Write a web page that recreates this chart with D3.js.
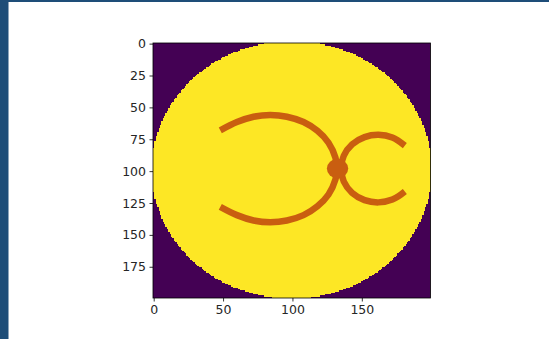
<!DOCTYPE html>
<html>
<head>
<meta charset="utf-8">
<script src="https://cdn.jsdelivr.net/npm/d3@7"></script>
<style>
  html, body { margin: 0; padding: 0; background: #fff; }
  svg { display: block; }
  text { font-family: "DejaVu Sans", sans-serif; }
</style>
</head>
<body>
<svg id="chart" width="549" height="339"></svg>
<script>
// Image grid size (pixels per side) and the round mask inside it
const gridSize = 200;
const maskCenter = [99.5, 99];
const maskRadius = 101;

// Tick labels on each axis
const xTicks = [0, 50, 100, 150];
const yTicks = [0, 25, 50, 75, 100, 125, 150, 175];

// Left curve: large arc, points in image coordinates (column, row)
const leftCurve = [
  [48, 68], [60, 61.5], [72, 57.3], [84, 56], [96, 57.3], [108, 61.5],
  [118, 68.4], [126, 77.7], [131, 89.5], [132, 98], [131, 106.5],
  [126, 118.3], [118, 127.6], [108, 134.5], [96, 138.7], [84, 140],
  [72, 138.7], [60, 134.5], [48, 128]
];

// Right curve: small arc opening to the right
const rightCurve = [
  [181, 80], [172, 73.7], [162, 71.5], [152, 73.3], [143, 79], [137, 87.9],
  [135, 98], [137, 108.1], [143, 117], [152, 122.7], [162, 124.5],
  [172, 122.3], [181, 116]
];

// Joint where the two arcs meet
const joint = { x: 132.5, y: 98, r: 7.7 };

const colors = {
  frame: "#1e4d78",
  outside: "#440154",
  inside: "#fde725",
  curve: "#c95e10",
  axis: "#000",
  text: "#262626"
};

const svg = d3.select("#chart");
const W = 549, H = 339;
const plot = { left: 153, right: 430.5, top: 43, bottom: 298 };

svg.append("rect").attr("width", W).attr("height", H).attr("fill", "#fff");
// Frame bands
svg.append("rect").attr("x", 0).attr("y", 0).attr("width", 8.5).attr("height", H).attr("fill", colors.frame);
svg.append("rect").attr("x", 0).attr("y", 0).attr("width", W).attr("height", 2).attr("fill", colors.frame);

const x = d3.scaleLinear().domain([-0.5, gridSize - 0.5]).range([plot.left, plot.right]);
const y = d3.scaleLinear().domain([-0.5, gridSize - 0.5]).range([plot.top, plot.bottom]);

// Background of the image (outside the mask)
svg.append("rect")
  .attr("x", x(-0.5)).attr("y", y(-0.5))
  .attr("width", x(gridSize - 0.5) - x(-0.5))
  .attr("height", y(gridSize - 0.5) - y(-0.5))
  .attr("fill", colors.outside);

// Mask drawn row by row so its edge keeps the pixel steps
const rows = d3.range(gridSize).map(i => {
  const dy = i - maskCenter[1];
  const rest = maskRadius * maskRadius - dy * dy;
  if (rest < 0) return null;
  const h = Math.sqrt(rest);
  const j0 = Math.max(0, Math.ceil(maskCenter[0] - h));
  const j1 = Math.min(gridSize - 1, Math.floor(maskCenter[0] + h));
  if (j1 < j0) return null;
  return { i, j0, j1 };
}).filter(Boolean);

const maskPath = d3.path();
rows.forEach(r => {
  maskPath.rect(x(r.j0 - 0.5), y(r.i - 0.5), x(r.j1 + 0.5) - x(r.j0 - 0.5), y(r.i + 0.5) - y(r.i - 0.5));
});
svg.append("path")
  .attr("d", maskPath.toString())
  .attr("fill", colors.inside)
  .attr("shape-rendering", "crispEdges");

// Curves
const line = d3.line()
  .x(d => x(d[0]))
  .y(d => y(d[1]))
  .curve(d3.curveCatmullRom.alpha(0.5));

[leftCurve, rightCurve].forEach(pts => {
  svg.append("path")
    .attr("d", line(pts))
    .attr("fill", "none")
    .attr("stroke", colors.curve)
    .attr("stroke-width", 6.5)
    .attr("stroke-linecap", "butt");
});

svg.append("ellipse")
  .attr("cx", x(joint.x))
  .attr("cy", y(joint.y))
  .attr("rx", x(joint.x + joint.r) - x(joint.x))
  .attr("ry", y(joint.y + joint.r) - y(joint.y))
  .attr("fill", colors.curve);

// Axes
const xAxis = d3.axisBottom(x).tickValues(xTicks).tickSize(3.5).tickPadding(3.5).tickFormat(d3.format("d"));
const yAxis = d3.axisLeft(y).tickValues(yTicks).tickSize(3.5).tickPadding(3.5).tickFormat(d3.format("d"));

const gx = svg.append("g").attr("transform", `translate(0,${plot.bottom})`).call(xAxis);
const gy = svg.append("g").attr("transform", `translate(${plot.left},0)`).call(yAxis);

[gx, gy].forEach(g => {
  g.select(".domain").remove();
  g.selectAll(".tick line").attr("stroke", colors.axis).attr("stroke-width", 0.8);
  g.selectAll(".tick text")
    .attr("fill", colors.text)
    .style("font-size", "12.5px")
    .style("font-family", "'DejaVu Sans', sans-serif");
});

// Spines
svg.append("rect")
  .attr("x", plot.left).attr("y", plot.top)
  .attr("width", plot.right - plot.left)
  .attr("height", plot.bottom - plot.top)
  .attr("fill", "none")
  .attr("stroke", colors.axis)
  .attr("stroke-width", 0.8);
</script>
</body>
</html>
